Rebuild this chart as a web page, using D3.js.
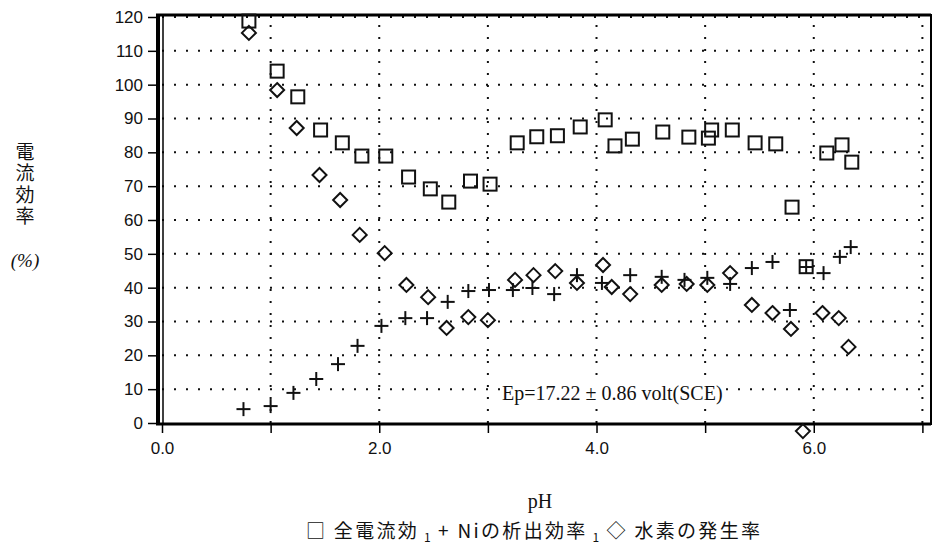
<!DOCTYPE html>
<html>
<head>
<meta charset="utf-8">
<script src="https://cdn.jsdelivr.net/npm/d3@7"></script>
<style>
  body { margin: 0; background: #fff; }
  svg { display: block; }
  .tick text { font-family: "Liberation Sans Narrow", "Liberation Sans", sans-serif; font-size: 17px; fill: #111; }
</style>
</head>
<body>
<div id="chart"></div>
<script>
// 全電流効率 (squares)
var phTotal  = [0.80, 1.06, 1.25, 1.46, 1.66, 1.84, 2.06, 2.27, 2.47, 2.64, 2.84, 3.02, 3.27, 3.45, 3.64, 3.85, 4.08, 4.17, 4.33, 4.61, 4.85, 5.03, 5.06, 5.25, 5.46, 5.65, 5.80, 5.93, 6.12, 6.26, 6.35]
var effTotal = [118.8, 104.0, 96.4, 86.6, 82.8, 78.9, 78.9, 72.7, 69.2, 65.3, 71.5, 70.6, 82.8, 84.6, 84.9, 87.5, 89.6, 81.9, 83.9, 86.0, 84.5, 84.2, 86.6, 86.6, 82.8, 82.5, 63.8, 46.2, 79.8, 82.2, 77.1]

// Niの析出効率 (plus)
var phNi  = [0.75, 1.00, 1.21, 1.42, 1.62, 1.80, 2.02, 2.24, 2.44, 2.63, 2.82, 3.01, 3.23, 3.41, 3.61, 3.82, 4.05, 4.31, 4.60, 4.81, 5.02, 5.23, 5.43, 5.62, 5.78, 5.93, 6.09, 6.24, 6.34]
var effNi = [4.1, 5.0, 8.9, 13.0, 17.4, 22.8, 28.7, 31.0, 31.0, 35.8, 39.0, 39.3, 39.3, 39.9, 38.1, 43.7, 41.4, 43.7, 43.2, 42.3, 42.9, 41.1, 45.8, 47.6, 33.4, 46.1, 44.3, 49.1, 52.0]

// 水素の発生率 (diamonds)
var phH2  = [0.80, 1.06, 1.24, 1.45, 1.64, 1.82, 2.05, 2.25, 2.45, 2.62, 2.82, 3.00, 3.25, 3.42, 3.62, 3.82, 4.06, 4.14, 4.31, 4.60, 4.83, 5.02, 5.23, 5.43, 5.62, 5.79, 5.90, 6.08, 6.23, 6.32]
var effH2 = [115.3, 98.4, 87.2, 73.3, 65.9, 55.6, 50.2, 40.8, 37.2, 28.1, 31.3, 30.4, 42.3, 43.7, 44.9, 41.4, 46.7, 40.2, 38.1, 40.8, 41.1, 40.8, 44.3, 34.9, 32.5, 27.8, -2.4, 32.5, 31.0, 22.5]

var xTicks = [0, 1, 2, 3, 4, 5, 6, 7]
var yTicks = [0, 10, 20, 30, 40, 50, 60, 70, 80, 90, 100, 110, 120]

var W = 933, H = 554

var svg = d3.select("#chart").append("svg")
  .attr("width", W)
  .attr("height", H)

var x = d3.scaleLinear().domain([0, 7.07]).range([162, 930])
var y = d3.scaleLinear().domain([0, 120]).range([423, 17])

// dotted grid
svg.append("g").selectAll("line")
  .data(yTicks.slice(1))
  .enter().append("line")
    .attr("x1", x(0)).attr("x2", x(7.07))
    .attr("y1", function(d){ return y(d) }).attr("y2", function(d){ return y(d) })
    .attr("stroke", "#111").attr("stroke-width", 2)
    .attr("stroke-dasharray", "2,10")

svg.append("g").selectAll("line")
  .data(xTicks.slice(1))
  .enter().append("line")
    .attr("x1", function(d){ return x(d) }).attr("x2", function(d){ return x(d) })
    .attr("y1", y(0)).attr("y2", y(120) - 2)
    .attr("stroke", "#111").attr("stroke-width", 2)
    .attr("stroke-dasharray", "2,10")

// frame
svg.append("line").attr("x1", 156).attr("x2", 931).attr("y1", 15).attr("y2", 15)
  .attr("stroke", "#000").attr("stroke-width", 3)
svg.append("line").attr("x1", 931).attr("x2", 931).attr("y1", 14).attr("y2", 425)
  .attr("stroke", "#000").attr("stroke-width", 2)
svg.append("line").attr("x1", x(0) + 1).attr("x2", x(0) + 1).attr("y1", 15).attr("y2", 424)
  .attr("stroke", "#000").attr("stroke-width", 1.5)

// y axis
var yAxis = svg.append("g")
  .attr("transform", "translate(158,0)")
  .call(d3.axisLeft(y).tickValues(yTicks).tickSize(10).tickPadding(5))
yAxis.select(".domain").attr("stroke-width", 4).attr("d", "M0,14V425")
yAxis.selectAll(".tick line").attr("stroke-width", 1.5)

// x axis
var xAxis = svg.append("g")
  .attr("transform", "translate(0," + y(0) + ")")
  .call(d3.axisBottom(x).tickValues(xTicks).tickSize(10).tickPadding(9)
    .tickFormat(function(d){ return d % 2 == 0 ? d.toFixed(1) : "" }))
xAxis.select(".domain").attr("stroke-width", 3).attr("d", "M156,1H931")
xAxis.selectAll(".tick line").attr("stroke-width", 1.5)

// annotation, with white box behind so the grid dots don't run through it
var note = svg.append("g")
var noteBg = note.append("rect").attr("fill", "#fff")
var noteText = note.append("text")
  .attr("x", 502).attr("y", 400)
  .attr("font-family", "Liberation Serif, serif")
  .attr("font-size", 20)
  .attr("fill", "#111")
  .text("Ep=17.22 ± 0.86 volt(SCE)")
var bb = noteText.node().getBBox()
noteBg.attr("x", bb.x - 2).attr("y", bb.y + 2).attr("width", bb.width + 4).attr("height", bb.height - 4)

// squares
var sq = 13
svg.append("g").selectAll("rect")
  .data(phTotal)
  .enter().append("rect")
    .attr("x", function(d){ return x(d) - sq / 2 })
    .attr("y", function(d, i){ return y(effTotal[i]) - sq / 2 })
    .attr("width", sq).attr("height", sq)
    .attr("fill", "none").attr("stroke", "#111").attr("stroke-width", 2)

// plus marks
var ps = 7
var plus = svg.append("g").selectAll("g")
  .data(phNi)
  .enter().append("g")
    .attr("transform", function(d, i){ return "translate(" + x(d) + "," + y(effNi[i]) + ")" })
plus.append("line").attr("x1", -ps).attr("x2", ps).attr("stroke", "#111").attr("stroke-width", 2)
plus.append("line").attr("y1", -ps).attr("y2", ps).attr("stroke", "#111").attr("stroke-width", 2)

// diamonds
var ds = 7
svg.append("g").selectAll("path")
  .data(phH2)
  .enter().append("path")
    .attr("transform", function(d, i){ return "translate(" + x(d) + "," + y(effH2[i]) + ")" })
    .attr("d", "M0," + (-ds) + "L" + ds + ",0L0," + ds + "L" + (-ds) + ",0Z")
    .attr("fill", "none").attr("stroke", "#111").attr("stroke-width", 2)

// y label (vertical)
svg.append("text")
  .attr("x", 25).attr("y", 142)
  .attr("font-family", "Noto Sans CJK JP")
  .attr("font-size", 19)
  .attr("fill", "#111")
  .style("writing-mode", "vertical-rl")
  .style("letter-spacing", "2.5px")
  .text("電流効率")
svg.append("text")
  .attr("x", 25).attr("y", 267)
  .attr("text-anchor", "middle")
  .attr("font-family", "Liberation Serif, serif")
  .attr("font-style", "italic")
  .attr("font-size", 19)
  .attr("fill", "#111")
  .text("(%)")

// x label
svg.append("text")
  .attr("x", 540).attr("y", 508)
  .attr("text-anchor", "middle")
  .attr("font-family", "Liberation Serif, serif")
  .attr("font-size", 20)
  .attr("fill", "#111")
  .text("pH")

// legend
var legend = svg.append("text")
  .attr("x", 306).attr("y", 538)
  .attr("font-family", "Noto Sans CJK JP")
  .attr("font-size", 19)
  .attr("fill", "#111")
  .attr("textLength", 454)
  .attr("lengthAdjust", "spacing")
legend.append("tspan").text("□ 全電流効")
legend.append("tspan").attr("font-size", 12).attr("dy", 4).text(" 1 ")
legend.append("tspan").attr("dy", -4).text("+ Niの析出効率")
legend.append("tspan").attr("font-size", 12).attr("dy", 4).text(" 1 ")
legend.append("tspan").attr("dy", -4).text("◇ 水素の発生率")
</script>
</body>
</html>
